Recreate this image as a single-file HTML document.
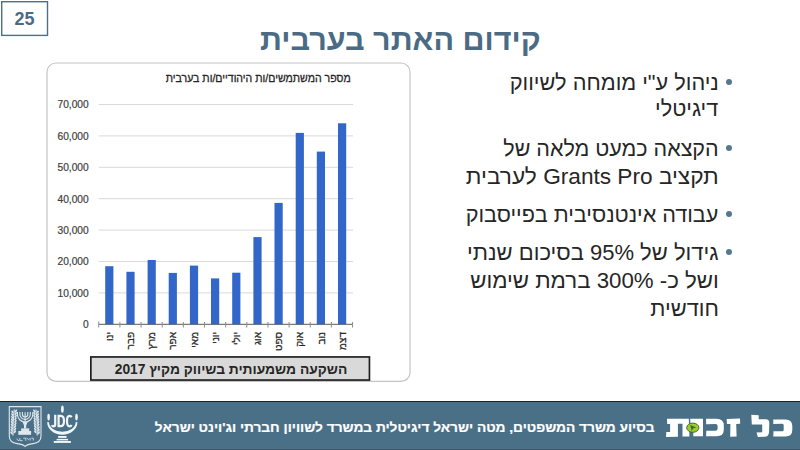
<!DOCTYPE html>
<html><head><meta charset="utf-8">
<style>
html,body{margin:0;padding:0;}
body{width:800px;height:450px;position:relative;overflow:hidden;background:#fff;font-family:"Liberation Sans",sans-serif;}
.a{position:absolute;white-space:nowrap;}
svg.a{overflow:visible;}
#numt{left:1px;top:4.4px;width:47px;color:#4b6b84;font-weight:bold;font-size:18px;line-height:31px;text-align:center;}
#title{right:259.1px;top:19.5px;font-size:30px;font-weight:bold;color:#4b6b84;line-height:40px;direction:rtl;transform-origin:100% 50%;transform:scaleX(1.018);}
#ctitle{right:449.5px;top:70px;font-size:11px;color:#262626;line-height:16px;direction:rtl;transform-origin:100% 50%;transform:scaleX(0.96);-webkit-text-stroke:0.3px #262626;}
.yl{right:711.3px;font-size:10.2px;color:#404040;line-height:12px;text-align:right;-webkit-text-stroke:0.2px #404040;}
.ml{width:40px;height:12px;font-size:10px;color:#262626;line-height:12px;direction:rtl;text-align:right;transform-origin:0 0;transform:rotate(-90deg) translateX(-40px);-webkit-text-stroke:0.25px #262626;}
#boxt{left:91px;top:356px;width:280px;font-weight:bold;font-size:14px;color:#262626;text-align:center;line-height:26px;direction:rtl;transform:scaleX(0.986);}
.bl{right:81.5px;font-size:22px;color:#262626;line-height:27px;direction:rtl;text-align:right;transform-origin:100% 50%;}
.dot{width:6px;height:6px;border-radius:50%;background:#557891;}
#foot{left:0;top:401px;width:800px;height:49px;background:#4a7088;border-top:1px solid #15232b;box-sizing:border-box;}
#ftext{right:145.4px;top:420.3px;font-size:13px;font-weight:bold;color:#fff;line-height:16px;direction:rtl;transform-origin:100% 50%;transform:scaleX(1.053);-webkit-text-stroke:0.2px #fff;}
</style></head><body>
<svg class="a" style="left:0;top:0" width="800" height="450">
<rect x="1.7" y="1.7" width="45.8" height="33.7" fill="none" stroke="#4f6f87" stroke-width="1.4"/>
<rect x="47" y="63" width="363" height="318.4" rx="9" ry="9" fill="none" stroke="#c4c4c4" stroke-width="1.2"/>
</svg>
<div class="a" id="numt">25</div>
<div class="a" id="title">קידום האתר בערבית</div>

<div class="a" id="ctitle">מספר המשתמשים/ות היהודיים/ות בערבית</div>

<div class="a yl" style="top:99.3px">70,000</div>
<div class="a yl" style="top:130.7px">60,000</div>
<div class="a yl" style="top:162.1px">50,000</div>
<div class="a yl" style="top:193.5px">40,000</div>
<div class="a yl" style="top:224.9px">30,000</div>
<div class="a yl" style="top:256.3px">20,000</div>
<div class="a yl" style="top:287.7px">10,000</div>
<div class="a yl" style="top:319.1px">0</div>

<svg class="a" style="left:0;top:0" width="800" height="450">
<g stroke="#d9d9d9" stroke-width="1">
<line x1="98.7" y1="104.5" x2="353" y2="104.5"/>
<line x1="98.7" y1="135.9" x2="353" y2="135.9"/>
<line x1="98.7" y1="167.3" x2="353" y2="167.3"/>
<line x1="98.7" y1="198.7" x2="353" y2="198.7"/>
<line x1="98.7" y1="230.1" x2="353" y2="230.1"/>
<line x1="98.7" y1="261.5" x2="353" y2="261.5"/>
<line x1="98.7" y1="292.9" x2="353" y2="292.9"/>
</g>
<g fill="#3366c9">
<rect x="105.2" y="266.2" width="8.2" height="58.1"/>
<rect x="126.4" y="271.8" width="8.2" height="52.5"/>
<rect x="147.6" y="260" width="8.2" height="64.3"/>
<rect x="168.7" y="272.9" width="8.2" height="51.4"/>
<rect x="189.9" y="265.6" width="8.2" height="58.7"/>
<rect x="211" y="278.4" width="8.2" height="45.9"/>
<rect x="232.2" y="272.7" width="8.2" height="51.6"/>
<rect x="253.4" y="237.1" width="8.2" height="87.2"/>
<rect x="274.5" y="202.9" width="8.2" height="121.4"/>
<rect x="295.7" y="132.9" width="8.2" height="191.4"/>
<rect x="316.8" y="151.6" width="8.2" height="172.7"/>
<rect x="338" y="123.3" width="8.2" height="201"/>
</g>
<line x1="98.7" y1="324.3" x2="352.5" y2="324.3" stroke="#595959" stroke-width="1"/>
<g stroke="#8c8c8c" stroke-width="1">
<line x1="98.75" y1="321.5" x2="98.75" y2="327.5"/>
<line x1="119.9" y1="322" x2="119.9" y2="327.5"/>
<line x1="141.05" y1="322" x2="141.05" y2="327.5"/>
<line x1="162.2" y1="322" x2="162.2" y2="327.5"/>
<line x1="183.35" y1="322" x2="183.35" y2="327.5"/>
<line x1="204.5" y1="322" x2="204.5" y2="327.5"/>
<line x1="225.65" y1="322" x2="225.65" y2="327.5"/>
<line x1="246.8" y1="322" x2="246.8" y2="327.5"/>
<line x1="267.95" y1="322" x2="267.95" y2="327.5"/>
<line x1="289.1" y1="322" x2="289.1" y2="327.5"/>
<line x1="310.25" y1="322" x2="310.25" y2="327.5"/>
<line x1="331.4" y1="322" x2="331.4" y2="327.5"/>
<line x1="352.55" y1="322" x2="352.55" y2="327.5"/>
</g>
<rect x="90.85" y="356.95" width="278.6" height="23.1" fill="#d9d9d9" stroke="#1f1f1f" stroke-width="1.7"/>
</svg>

<div class="a ml" style="left:103.9px;top:332px">ינו</div>
<div class="a ml" style="left:125.1px;top:332px">פבר</div>
<div class="a ml" style="left:146.2px;top:332px">מרץ</div>
<div class="a ml" style="left:167.4px;top:332px">אפר</div>
<div class="a ml" style="left:188.5px;top:332px">מאי</div>
<div class="a ml" style="left:209.7px;top:332px">יוני</div>
<div class="a ml" style="left:230.8px;top:332px">יולי</div>
<div class="a ml" style="left:252.0px;top:332px">אוג</div>
<div class="a ml" style="left:273.2px;top:332px">ספט</div>
<div class="a ml" style="left:294.3px;top:332px">אוק</div>
<div class="a ml" style="left:315.5px;top:332px">נוב</div>
<div class="a ml" style="left:336.6px;top:332px">דצמ</div>

<div class="a" id="boxt">השקעה משמעותית בשיווק מקיץ 2017</div>

<div class="a dot" style="left:725.9px;top:78.7px"></div>
<div class="a dot" style="left:725.9px;top:144.8px"></div>
<div class="a dot" style="left:725.9px;top:210.6px"></div>
<div class="a dot" style="left:725.9px;top:248.6px"></div>
<div class="a bl" style="top:68.7px;transform:scaleX(0.987)">ניהול ע"י מומחה לשיווק</div>
<div class="a bl" style="top:95.3px;transform:scaleX(0.983)">דיגיטלי</div>
<div class="a bl" style="top:134.6px;transform:scaleX(0.976)">הקצאה כמעט מלאה של</div>
<div class="a bl" style="top:162.8px;transform:scaleX(1.029)">תקציב Grants Pro לערבית</div>
<div class="a bl" style="top:200.9px;transform:scaleX(0.982)">עבודה אינטנסיבית בפייסבוק</div>
<div class="a bl" style="top:239.1px;transform:scaleX(1.0)">גידול של 95% בסיכום שנתי</div>
<div class="a bl" style="top:266.5px;transform:scaleX(1.0115)">ושל כ- 300% ברמת שימוש</div>
<div class="a bl" style="top:295.3px;transform:scaleX(0.995)">חודשית</div>

<div class="a" id="foot"></div>
<div class="a" style="left:0;top:449px;width:800px;height:1px;background:#3a5668"></div>
<div class="a" id="ftext">בסיוע משרד המשפטים, מטה ישראל דיגיטלית במשרד לשוויון חברתי וג'וינט ישראל</div>

<!-- footer logos -->
<svg class="a" style="left:0;top:0" width="800" height="450">
<!-- Emblem -->
<g fill="none" stroke="#dfe7ec" stroke-width="1.1">
<path d="M9.3,406.6 L41,406.6 L41,436 Q41,442.6 33,443.6 Q27,444.3 25.1,446.4 Q23.2,444.3 17.2,443.6 Q9.3,442.6 9.3,436 Z"/>
<path d="M25.1,412.3 L25.1,424"/>
<path d="M17.4,412 L17.4,414.3 A7.7,7.7 0 0 0 32.8,414.3 L32.8,412"/>
<path d="M19.9,412 L19.9,414.3 A5.2,5.2 0 0 0 30.3,414.3 L30.3,412"/>
<path d="M22.4,412 L22.4,414.3 A2.7,2.7 0 0 0 27.8,414.3 L27.8,412"/>
<path d="M13,435.5 Q12.6,422 14.3,409.5"/>
<path d="M37.2,435.5 Q37.6,422 35.9,409.5"/>
</g>
<g fill="#dfe7ec">
<path d="M22.6,422 L27.6,422 L26.2,425.5 L26.2,428.6 L24,428.6 L24,425.5 Z"/>
<rect x="21.2" y="428.4" width="8" height="2.8"/>
<rect x="18.3" y="431" width="12.8" height="3.8"/>
<ellipse cx="12.5" cy="412.1" rx="0.9" ry="1.7" transform="rotate(-35 12.5 412.1)"/>
<ellipse cx="15.9" cy="411.0" rx="0.9" ry="1.7" transform="rotate(35 15.9 411.0)"/>
<ellipse cx="37.7" cy="412.1" rx="0.9" ry="1.7" transform="rotate(35 37.7 412.1)"/>
<ellipse cx="34.3" cy="411.0" rx="0.9" ry="1.7" transform="rotate(-35 34.3 411.0)"/>
<ellipse cx="12.4" cy="414.7" rx="0.9" ry="1.7" transform="rotate(-35 12.4 414.7)"/>
<ellipse cx="15.8" cy="413.6" rx="0.9" ry="1.7" transform="rotate(35 15.8 413.6)"/>
<ellipse cx="37.8" cy="414.7" rx="0.9" ry="1.7" transform="rotate(35 37.8 414.7)"/>
<ellipse cx="34.4" cy="413.6" rx="0.9" ry="1.7" transform="rotate(-35 34.4 413.6)"/>
<ellipse cx="12.3" cy="417.3" rx="0.9" ry="1.7" transform="rotate(-35 12.3 417.3)"/>
<ellipse cx="15.7" cy="416.2" rx="0.9" ry="1.7" transform="rotate(35 15.7 416.2)"/>
<ellipse cx="37.9" cy="417.3" rx="0.9" ry="1.7" transform="rotate(35 37.9 417.3)"/>
<ellipse cx="34.5" cy="416.2" rx="0.9" ry="1.7" transform="rotate(-35 34.5 416.2)"/>
<ellipse cx="12.1" cy="419.9" rx="0.9" ry="1.7" transform="rotate(-35 12.1 419.9)"/>
<ellipse cx="15.5" cy="418.8" rx="0.9" ry="1.7" transform="rotate(35 15.5 418.8)"/>
<ellipse cx="38.1" cy="419.9" rx="0.9" ry="1.7" transform="rotate(35 38.1 419.9)"/>
<ellipse cx="34.7" cy="418.8" rx="0.9" ry="1.7" transform="rotate(-35 34.7 418.8)"/>
<ellipse cx="12.0" cy="422.5" rx="0.9" ry="1.7" transform="rotate(-35 12.0 422.5)"/>
<ellipse cx="15.4" cy="421.4" rx="0.9" ry="1.7" transform="rotate(35 15.4 421.4)"/>
<ellipse cx="38.2" cy="422.5" rx="0.9" ry="1.7" transform="rotate(35 38.2 422.5)"/>
<ellipse cx="34.8" cy="421.4" rx="0.9" ry="1.7" transform="rotate(-35 34.8 421.4)"/>
<ellipse cx="11.9" cy="425.1" rx="0.9" ry="1.7" transform="rotate(-35 11.9 425.1)"/>
<ellipse cx="15.3" cy="424.0" rx="0.9" ry="1.7" transform="rotate(35 15.3 424.0)"/>
<ellipse cx="38.3" cy="425.1" rx="0.9" ry="1.7" transform="rotate(35 38.3 425.1)"/>
<ellipse cx="34.9" cy="424.0" rx="0.9" ry="1.7" transform="rotate(-35 34.9 424.0)"/>
<ellipse cx="11.7" cy="427.7" rx="0.9" ry="1.7" transform="rotate(-35 11.7 427.7)"/>
<ellipse cx="15.1" cy="426.6" rx="0.9" ry="1.7" transform="rotate(35 15.1 426.6)"/>
<ellipse cx="38.5" cy="427.7" rx="0.9" ry="1.7" transform="rotate(35 38.5 427.7)"/>
<ellipse cx="35.1" cy="426.6" rx="0.9" ry="1.7" transform="rotate(-35 35.1 426.6)"/>
<ellipse cx="11.6" cy="430.3" rx="0.9" ry="1.7" transform="rotate(-35 11.6 430.3)"/>
<ellipse cx="15.0" cy="429.2" rx="0.9" ry="1.7" transform="rotate(35 15.0 429.2)"/>
<ellipse cx="38.6" cy="430.3" rx="0.9" ry="1.7" transform="rotate(35 38.6 430.3)"/>
<ellipse cx="35.2" cy="429.2" rx="0.9" ry="1.7" transform="rotate(-35 35.2 429.2)"/>
<ellipse cx="11.5" cy="432.9" rx="0.9" ry="1.7" transform="rotate(-35 11.5 432.9)"/>
<ellipse cx="14.9" cy="431.8" rx="0.9" ry="1.7" transform="rotate(35 14.9 431.8)"/>
<ellipse cx="38.7" cy="432.9" rx="0.9" ry="1.7" transform="rotate(35 38.7 432.9)"/>
<ellipse cx="35.3" cy="431.8" rx="0.9" ry="1.7" transform="rotate(-35 35.3 431.8)"/>
</g>
<g fill="none" stroke="#dfe7ec" stroke-width="0.8">
<path d="M16.8,438.6 Q17.5,441 19,440.5 M19.8,438 L19.8,440.6 L22.5,440.6 M23.4,438.2 L25.8,438.2 L25.8,440.8 M26.8,438 Q29,441 29.4,438.6 M30.2,438.2 L30.2,440.6 M31.3,438.2 L33.3,438.2 L33.3,440.6"/>
</g>
<!-- JDC -->
<g fill="#f2f5f7">
<ellipse cx="62.4" cy="409.2" rx="1.35" ry="3.6"/>
<ellipse cx="48.6" cy="417.1" rx="1.3" ry="3.4"/>
<ellipse cx="76.5" cy="417.1" rx="1.3" ry="3.4"/>
<path d="M47.2,422 A15.1,12.8 0 0 0 77.4,422 L75.6,422.3 A13.3,9.4 0 0 1 49,422.3 Z"/>
<rect x="58.1" y="436" width="8.4" height="1.9"/>
<rect x="56.6" y="438.9" width="11.5" height="1.5"/>
<rect x="53.8" y="441" width="17.1" height="1.9"/>
</g>
<g fill="none" stroke="#f2f5f7" stroke-width="2.2">
<path d="M55.2,414.8 L55.2,424.2 Q55.2,426.4 53.6,426.4 Q52.4,426.4 52.1,425"/>
<path d="M58.6,415.9 L58.6,426.2 L60.6,426.2 Q64,426.2 64,421 Q64,415.9 60.6,415.9 Z"/>
<path d="M71.6,417.2 Q71,415.9 69.5,415.9 Q67,415.9 67,421 Q67,426.3 69.5,426.3 Q71,426.3 71.6,425"/>
</g>
<!-- Kol Zchut logo -->
<g fill="#ffffff">
<!-- kaf right -->
<path d="M773.3,419.4 L785.5,419.4 Q792.3,419.4 792.3,426 L792.3,430 Q792.3,436.5 785.5,436.5 L773.3,436.5 L773.5,431.3 L782.3,431.3 Q783.7,431.3 783.7,429.8 L783.7,425.2 Q783.7,423.7 782.3,423.7 L773.3,423.9 Z"/>
<!-- lamed -->
<path d="M751.3,414.7 L758.7,415.3 L758.7,419.3 L765.8,419.3 Q769.3,419.3 769.3,423 L769,432.5 Q768.7,436.7 764.5,436.7 L757.8,437 L756.6,432.6 L762.2,432.2 L762.2,424.4 L751.8,424.4 Z"/>
<!-- zayin -->
<path d="M726.7,418.9 L740,418.6 L740.2,423.7 L736.2,423.9 L736.6,436.5 L730.2,436.8 L730.4,423.9 L726.9,423.9 Z"/>
<!-- kaf middle -->
<path d="M706.1,418.8 L716.5,418.8 Q723.8,418.8 723.8,425.5 L723.8,429.8 Q723.8,436.3 716.5,436.3 L706.1,436.3 L706.3,430.7 L715.5,430.7 Q717.6,430.7 717.6,428.8 L717.6,426 Q717.6,424.1 715.5,424.1 L706.1,424.3 Z"/>
<!-- vav -->
<path d="M690.2,418.8 L703,418.8 L703,436.3 L693.3,436.3 L693.3,423.5 L690.4,423.5 Z"/>
<!-- tav -->
<path d="M667,418.8 L688.8,418.8 L689.4,436.5 L682.5,436.6 L682.5,423.8 L677.9,423.8 L677.9,436.7 L666,436.9 L666.3,431.9 L670.1,431.9 L670.1,423.9 L667.2,424 Z"/>
</g>
<ellipse cx="692.8" cy="427.7" rx="6.1" ry="4.6" fill="#9acb2f" stroke="#3f5e22" stroke-width="0.9"/>
<path d="M690.2,425 L696.2,427.5 L692.8,428.4 L691.8,431.2 Z" fill="#3b6a2a"/>
</svg>
</body></html>
